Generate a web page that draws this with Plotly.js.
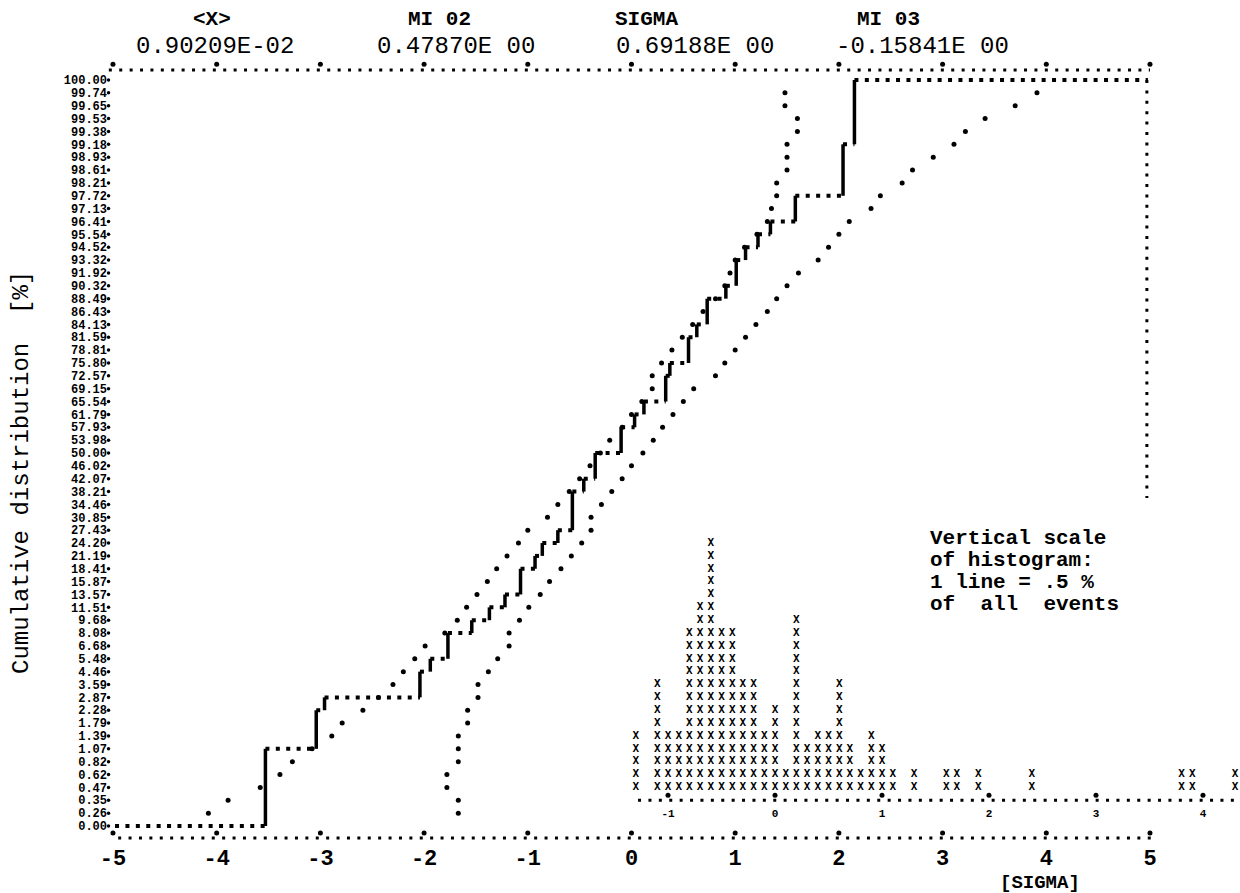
<!DOCTYPE html>
<html>
<head>
<meta charset="utf-8">
<script src="https://cdn.plot.ly/plotly-3.0.1.min.js"></script>
<style>
  html, body { margin: 0; padding: 0; background: #fff; }
  #chart { width: 1240px; height: 893px; }
</style>
</head>
<body>
<div id="chart"></div>
<script>
// ---------------- DATA ----------------
// Probability-scale rows (probit, in sigma) and their printed labels [%]
const yTickVals = [-2.9,-2.8,-2.7,-2.6,-2.5,-2.4,-2.3,-2.2,-2.1,-2.0,-1.9,-1.8,-1.7,-1.6,-1.5,-1.4,-1.3,-1.2,-1.1,-1.0,
  -0.9,-0.8,-0.7,-0.6,-0.5,-0.4,-0.3,-0.2,-0.1,0.0,0.1,0.2,0.3,0.4,0.5,0.6,0.7,0.8,0.9,1.0,
  1.1,1.2,1.3,1.4,1.5,1.6,1.7,1.8,1.9,2.0,2.1,2.2,2.3,2.4,2.5,2.6,2.7,2.8,2.9];
const yTickText = ["0.00","0.26","0.35","0.47","0.62","0.82","1.07","1.39","1.79","2.28","2.87","3.59","4.46","5.48","6.68","8.08","9.68","11.51","13.57","15.87",
  "18.41","21.19","24.20","27.43","30.85","34.46","38.21","42.07","46.02","50.00","53.98","57.93","61.79","65.54","69.15","72.57","75.80","78.81","81.59","84.13",
  "86.43","88.49","90.32","91.92","93.32","94.52","95.54","96.41","97.13","97.72","98.21","98.61","98.93","99.18","99.38","99.53","99.65","99.74","100.00"];

// Main x axis [SIGMA]
const xTickVals = [-5,-4,-3,-2,-1,0,1,2,3,4,5];
const xTickText = ["-5","-4","-3","-2","-1","0","1","2","3","4","5"];

// Empirical cumulative distribution (step curve): start, jumps, end
const stepStartX = -4.98;
const stepStartLevel = -2.9;
const stepJumpX  = [-3.53,-3.04,-2.96,-2.04,-1.94,-1.77,-1.54,-1.37,-1.22,-1.07,-0.93,-0.86,-0.71,-0.57,-0.46,-0.35,
                    -0.10,0.03,0.12,0.33,0.37,0.55,0.63,0.73,0.91,1.01,1.10,1.22,1.34,1.58,2.04,2.15];
const stepLevel  = [-2.3,-2.0,-1.9,-1.7,-1.6,-1.4,-1.3,-1.2,-1.1,-0.9,-0.8,-0.7,-0.6,-0.3,-0.2,0.0,
                    0.2,0.3,0.4,0.6,0.7,0.9,1.0,1.2,1.3,1.5,1.6,1.7,1.8,2.0,2.4,2.9];
const stepEndX = 4.98;

// Confidence band dots (one per printer row)
const bandZ = [-2.8,-2.7,-2.6,-2.5,-2.4,-2.3,-2.2,-2.1,-2.0,-1.9,-1.8,-1.7,-1.6,-1.5,-1.4,-1.3,-1.2,-1.1,-1.0,-0.9,
  -0.8,-0.7,-0.6,-0.5,-0.4,-0.3,-0.2,-0.1,0.0,0.1,0.2,0.3,0.4,0.5,0.6,0.7,0.8,0.9,1.0,1.1,
  1.2,1.3,1.4,1.5,1.6,1.7,1.8,1.9,2.0,2.1,2.2,2.3,2.4,2.5,2.6,2.7,2.8];
const bandUpperX = [-4.08,-3.89,-3.58,-3.39,-3.27,-3.08,-2.89,-2.79,-2.59,-2.44,-2.30,-2.20,-2.09,-1.99,-1.80,-1.68,-1.59,-1.49,-1.39,-1.30,
  -1.20,-1.09,-1.00,-0.81,-0.71,-0.60,-0.50,-0.40,-0.30,-0.21,-0.09,0.00,0.10,0.20,0.20,0.29,0.39,0.49,0.59,0.69,
  0.81,0.90,0.95,1.00,1.09,1.21,1.31,1.35,1.40,1.40,1.50,1.50,1.50,1.60,1.60,1.48,1.48];
const bandLowerX = [-1.67,-1.67,-1.78,-1.78,-1.67,-1.67,-1.67,-1.58,-1.58,-1.48,-1.48,-1.38,-1.29,-1.18,-1.18,-1.08,-0.99,-0.88,-0.79,-0.68,
  -0.58,-0.48,-0.39,-0.39,-0.29,-0.19,-0.09,0.00,0.11,0.21,0.30,0.40,0.50,0.60,0.81,0.90,1.00,1.10,1.20,1.31,
  1.40,1.50,1.61,1.80,1.90,2.00,2.10,2.31,2.40,2.61,2.71,2.91,3.11,3.22,3.41,3.70,3.91];

// Histogram (own scale; 1 line = 0.5 % of all events)
const histX = [-1.3,-1.1,-1.0,-0.9,-0.8,-0.7,-0.6,-0.5,-0.4,-0.3,-0.2,-0.1,0.0,0.1,0.2,0.3,0.4,0.5,0.6,0.7,0.8,0.9,1.0,1.1,1.3,1.6,1.7,1.9,2.4,3.8,3.9,4.3];
const histLines = [5,9,5,5,13,15,20,13,13,9,9,5,7,2,14,4,5,5,9,4,2,5,4,2,2,2,2,2,2,2,2,2];
const histTickVals = [-1,0,1,2,3,4];
const histTickText = ["-1","0","1","2","3","4"];

// Header statistics
const statNames  = ["<X>","MI 02","SIGMA","MI 03"];
const statValues = ["0.90209E-02","0.47870E 00","0.69188E 00","-0.15841E 00"];

// ---------------- LAYOUT GEOMETRY ----------------
const W = 1240, H = 893;
const M = {l: 108, r: 0, t: 60, b: 51};
const PW = W - M.l - M.r, PH = H - M.t - M.b;
const xRange  = [-5.048, 5.868];
const x2Range = [-6.234, 4.346];
const yRange  = [-3.0244, 3.0555];
const px = x => (x - M.l) / PW;     // pixel -> paper
const py = y => (H - M.b - y) / PH;

const zTop = 2.978, zTopTick = 3.022;     // dotted upper frame
const zBot = -2.993, zBotTick = -2.955;   // dotted lower axis
const histBase = -2.7, histRow = 0.1;
const mono = "Liberation Mono, DejaVu Sans Mono, monospace";
const ink = "#000";

// ---------------- TRACES ----------------
const traces = [];

// step curve: horizontal dotted runs + solid vertical rises
const hx = [], hy = [], vx = [], vy = [];
let prevX = stepStartX, prevL = stepStartLevel;
for (let i = 0; i < stepJumpX.length; i++) {
  hx.push(prevX, stepJumpX[i], null); hy.push(prevL, prevL, null);
  vx.push(stepJumpX[i], stepJumpX[i], null); vy.push(prevL, stepLevel[i], null);
  prevX = stepJumpX[i]; prevL = stepLevel[i];
}
hx.push(prevX, stepEndX, null); hy.push(prevL, prevL, null);

traces.push({x: hx, y: hy, mode: "lines", line: {color: ink, width: 4, dash: "4px,6.4px"}, hoverinfo: "skip", cliponaxis: false});
traces.push({x: vx, y: vy, mode: "lines", line: {color: ink, width: 3.5}, hoverinfo: "skip", cliponaxis: false});

// confidence bands
traces.push({x: bandUpperX, y: bandZ, mode: "markers", marker: {color: ink, size: 5}, hoverinfo: "skip"});
traces.push({x: bandLowerX, y: bandZ, mode: "markers", marker: {color: ink, size: 5}, hoverinfo: "skip"});

// left row dots (one per printed row)
traces.push({x: yTickVals.map(() => xRange[0] + 0.005), y: yTickVals, mode: "markers",
  marker: {color: ink, size: 3.5}, hoverinfo: "skip", cliponaxis: false});

// tick dots on upper frame and lower axis
traces.push({x: xTickVals, y: xTickVals.map(() => zTopTick), mode: "markers", marker: {color: ink, size: 5}, hoverinfo: "skip", cliponaxis: false});
traces.push({x: xTickVals, y: xTickVals.map(() => zBotTick), mode: "markers", marker: {color: ink, size: 5}, hoverinfo: "skip", cliponaxis: false});

// histogram: one typed "X" per line
const gx = [], gy = [];
histX.forEach((x, i) => { for (let j = 1; j <= histLines[i]; j++) { gx.push(x); gy.push(histBase + histRow * j); } });
traces.push({x: gx, y: gy, xaxis: "x2", yaxis: "y", mode: "text", text: gx.map(() => "X"),
  textfont: {family: "DejaVu Sans Mono, Liberation Mono, monospace", size: 11, color: ink, weight: "bold"}, hoverinfo: "skip", cliponaxis: false});
// histogram axis tick dots and labels
traces.push({x: histTickVals, y: histTickVals.map(() => histBase + 0.04), xaxis: "x2", yaxis: "y", mode: "markers",
  marker: {color: ink, size: 5}, hoverinfo: "skip", cliponaxis: false});
traces.push({x: histTickVals, y: histTickVals.map(() => histBase - 0.11), xaxis: "x2", yaxis: "y", mode: "text",
  text: histTickText, textfont: {family: mono, size: 11, color: ink, weight: "bold"}, hoverinfo: "skip", cliponaxis: false});

// ---------------- SHAPES (dotted frame) ----------------
const dotted = {color: ink, width: 3, dash: "3px,7.4px"};
const shapes = [
  {type: "line", xref: "x", yref: "y", x0: -5.04, x1: 5.0, y0: zTop, y1: zTop, line: dotted},
  {type: "line", xref: "x", yref: "y", x0: -4.95, x1: 5.05, y0: zBot, y1: zBot, line: dotted},
  {type: "line", xref: "x", yref: "y", x0: 4.97, x1: 4.97, y0: 2.9, y1: -0.35, line: dotted},
  {type: "line", xref: "x2", yref: "y", x0: -1.28, x1: 4.34, y0: histBase, y1: histBase, line: dotted}
];

// ---------------- ANNOTATIONS ----------------
const ann = [];
const statNameX = [212, 439, 646, 888];
const statValX  = [215, 456, 695, 922];
statNames.forEach((s, i) => {
  ann.push({xref: "paper", yref: "paper", x: px(statNameX[i]), y: py(19), text: s, showarrow: false,
    xanchor: "center", yanchor: "middle", font: {family: mono, size: 21, color: ink, weight: "bold"}});
  ann.push({xref: "paper", yref: "paper", x: px(statValX[i]), y: py(46), text: statValues[i], showarrow: false,
    xanchor: "center", yanchor: "middle", font: {family: mono, size: 24, color: ink}});
});
const noteLines = ["Vertical scale", "of histogram:", "1 line = .5 %", "of  all  events"];
const noteY = [538, 560, 582, 604];
noteLines.forEach((t, i) => ann.push({xref: "paper", yref: "paper", x: px(928), y: py(noteY[i]), text: t, showarrow: false,
  xanchor: "left", yanchor: "middle", font: {family: mono, size: 21, color: ink, weight: "bold"}}));
ann.push({xref: "paper", yref: "paper", x: px(22), y: py(473), text: "Cumulative distribution  [%]", textangle: -90,
  showarrow: false, xanchor: "center", yanchor: "middle", font: {family: mono, size: 24, color: ink}});
ann.push({xref: "paper", yref: "paper", x: px(1040), y: py(883), text: "[SIGMA]", showarrow: false,
  xanchor: "center", yanchor: "middle", font: {family: mono, size: 19, color: ink, weight: "bold"}});

const layout = {
  width: W, height: H, margin: M, showlegend: false,
  paper_bgcolor: "#fff", plot_bgcolor: "#fff",
  xaxis: {range: xRange, showgrid: false, zeroline: false, showline: false, ticks: "",
    tickmode: "array", tickvals: xTickVals, ticktext: xTickText,
    tickfont: {family: mono, size: 22, color: ink, weight: "bold"}, fixedrange: true},
  xaxis2: {range: x2Range, overlaying: "x", visible: false, fixedrange: true},
  yaxis: {range: yRange, showgrid: false, zeroline: false, showline: false, ticks: "",
    tickmode: "array", tickvals: yTickVals, ticktext: yTickText,
    tickfont: {family: mono, size: 12, color: ink, weight: "bold"}, fixedrange: true},
  shapes: shapes, annotations: ann
};

Plotly.newPlot("chart", traces, layout, {displayModeBar: false, staticPlot: true});
</script>
</body>
</html>
